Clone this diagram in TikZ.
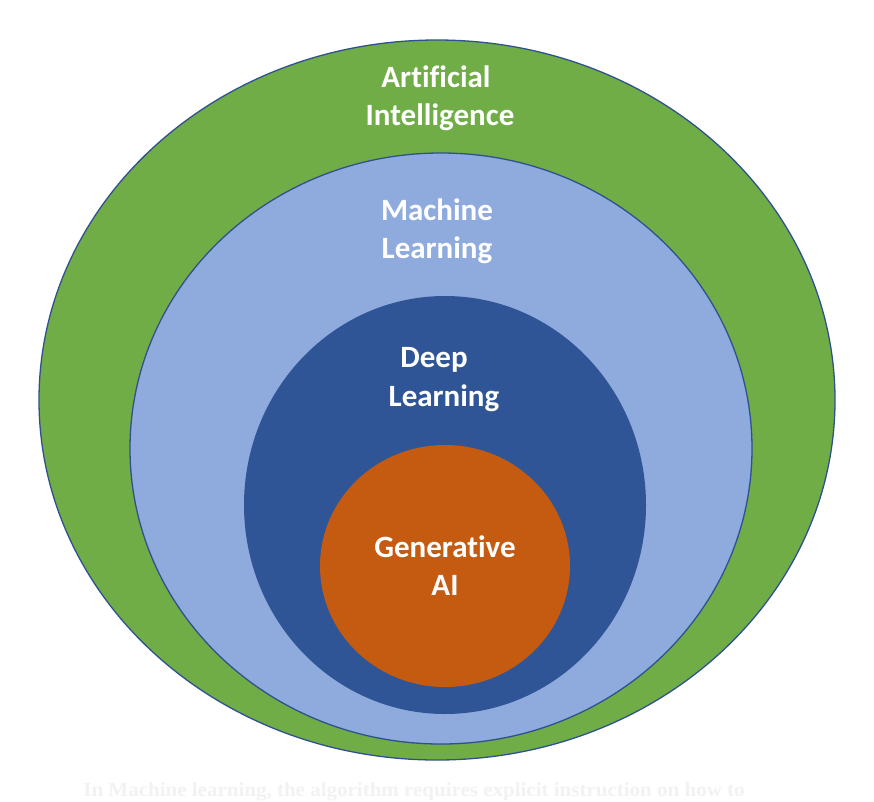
\documentclass[tikz,border=0pt]{standalone}
\usepackage{fontspec}
\setmainfont[Ligatures={NoCommon}]{Carlito}
\newfontfamily\capfont{Liberation Serif}
\definecolor{aigreen}{HTML}{70AD47}
\definecolor{mlblue}{HTML}{8FAADC}
\definecolor{dlblue}{HTML}{2F5597}
\definecolor{genorange}{HTML}{C55A11}
\definecolor{edgeblue}{HTML}{2F528F}
\definecolor{faint}{HTML}{F2F2F2}
\tikzset{
  ring/.style={draw=edgeblue, line width=1.3pt},
  lbl/.style={text=white, font=\fontsize{31}{38}\selectfont\bfseries, align=center, inner sep=0pt, anchor=base},
}
\begin{document}
\begin{tikzpicture}[x=1pt,y=-1pt]
\useasboundingbox (0,0) rectangle (874,801);
\fill[white] (0,0) rectangle (874,801);
\path[ring, fill=aigreen] (437,400) ellipse [x radius=398, y radius=360];
\path[ring, fill=mlblue] (441,448.5) ellipse [x radius=311, y radius=295.5];
\path[fill=dlblue] (445,505) ellipse [x radius=201, y radius=209];
\path[fill=genorange] (445,566) ellipse [x radius=125, y radius=121];
\node[lbl] (ai1) at (436,87) {Artificial};
\node[lbl] (ai2) at (440,125) {Intelligence};
\node[lbl] (ml1) at (437,220) {Machine};
\node[lbl] (ml2) at (437,258) {Learning};
\node[lbl] (dl1) at (434,367) {Deep};
\node[lbl] (dl2) at (444,406) {Learning};
\node[lbl] (ga1) at (445,557) {Generative};
\node[lbl] (ga2) at (445,595) {AI};
\node[text=faint, font=\capfont\fontsize{20}{24}\selectfont\bfseries, anchor=base, inner sep=0pt, xscale=1.05] (cap) at (414,796) {In Machine learning, the algorithm requires explicit instruction on how to};
\end{tikzpicture}
\end{document}
